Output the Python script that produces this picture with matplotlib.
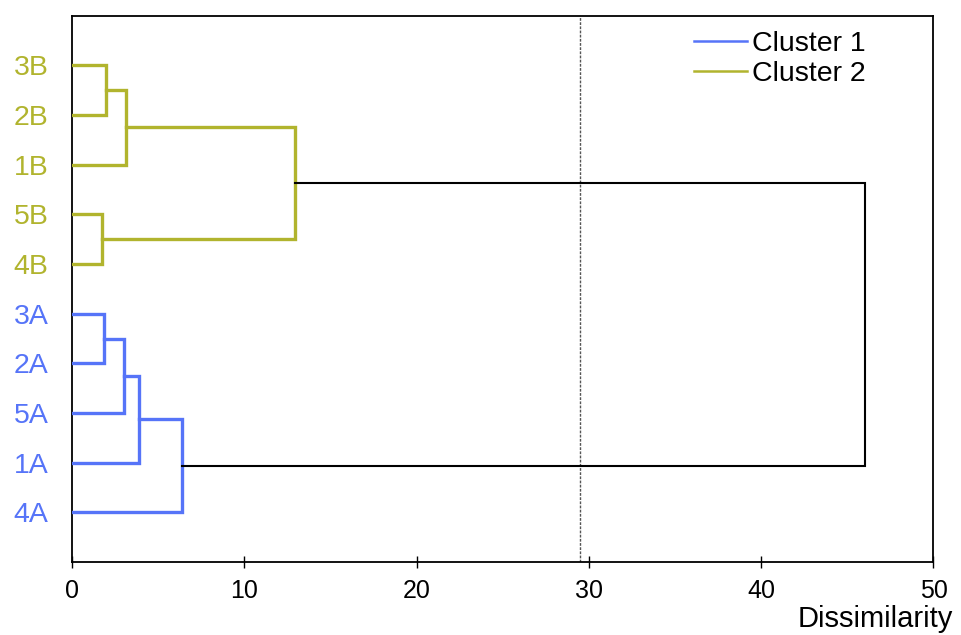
import numpy as np
import matplotlib.pyplot as plt

# Leaves listed from the bottom of the plot upwards
leaf_labels = ["4A", "1A", "5A", "2A", "3A", "4B", "5B", "1B", "2B", "3B"]
leaf_cluster = [1, 1, 1, 1, 1, 2, 2, 2, 2, 2]

# Agglomeration steps: (node a, node b, dissimilarity); new nodes get ids 10, 11, ...
merges = [
    (4, 3, 1.86),
    (10, 2, 3.00),
    (11, 1, 3.90),
    (12, 0, 6.37),
    (6, 5, 1.72),
    (9, 8, 1.97),
    (15, 7, 3.12),
    (16, 14, 12.96),
    (17, 13, 46.0),
]
cut_level = 29.5

cluster_names = {1: "Cluster 1", 2: "Cluster 2"}
cluster_colors = {1: "#5674f8", 2: "#b1b42e"}

plt.rcParams["font.family"] = ["Liberation Sans", "DejaVu Sans"]

fig = plt.figure(figsize=(9.62, 6.35), dpi=100)
ax = fig.add_axes([72 / 962, 1 - 562 / 635, (933.5 - 72) / 962, (562 - 15.7) / 635])

n = len(leaf_labels)
pos = {i: float(i + 1) for i in range(n)}
height = {i: 0.0 for i in range(n)}
clus = {i: leaf_cluster[i] for i in range(n)}

for k, (a, b, h) in enumerate(merges):
    node = n + k
    same = clus[a] == clus[b]
    color = cluster_colors[clus[a]] if same else "black"
    lw = 2.4 if same else 1.5
    ax.plot([height[a], h, h, height[b]], [pos[a], pos[a], pos[b], pos[b]],
            color=color, lw=lw, solid_joinstyle="miter", zorder=3)
    pos[node] = (pos[a] + pos[b]) / 2
    height[node] = h
    clus[node] = clus[a] if same else 0

ax.axvline(cut_level, color="#555555", lw=1.0, ls=(0, (2, 1)), zorder=2)

for c, name in cluster_names.items():
    ax.plot([], [], color=cluster_colors[c], lw=1.8, label=name)
leg = ax.legend(loc="upper left", bbox_to_anchor=(694 / 962, 1 - 31 / 635),
                bbox_transform=fig.transFigure, frameon=False, fontsize=20.5,
                handlelength=1.86, handletextpad=0.18, labelspacing=0.15,
                borderpad=0, borderaxespad=0)

ax.set_xlim(0, 50)
ax.set_ylim(0, n + 1)
ax.set_xticks(np.arange(0, 51, 10))
ax.tick_params(axis="x", direction="inout", length=9, width=1.0, labelsize=18, pad=8)
ax.set_yticks([pos[i] for i in range(n)])
ax.set_yticklabels(leaf_labels, fontsize=20.5)
ax.tick_params(axis="y", length=0, pad=17)
for lbl, c in zip(ax.get_yticklabels(), leaf_cluster):
    lbl.set_color(cluster_colors[c])

for sp in ax.spines.values():
    sp.set_linewidth(1.3)

fig.text(953 / 962, 8 / 635, "Dissimilarity", ha="right", va="baseline", fontsize=21)

fig.savefig("out.png", dpi=100)
